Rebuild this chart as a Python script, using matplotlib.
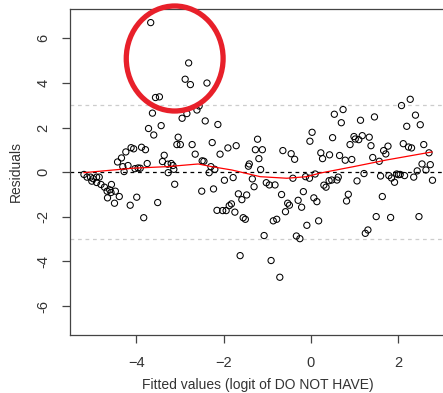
import matplotlib.pyplot as plt
from matplotlib.patches import Ellipse

plt.rcParams['font.family'] = ['Liberation Sans', 'DejaVu Sans']

# fitted values (logit) and residuals
fitted = [
    -3.67, -2.80, -2.88, -2.76, -2.38, -3.56, -3.47, -3.63, -2.84, -2.95,
    -2.61, -2.56, -2.42, -3.72, -3.43, -3.60, -3.04, -3.07, -2.99, -2.72,
    -2.26, -2.13, -4.12, -4.06, -4.24, -3.88, -3.79, -4.34, -4.43, -3.36,
    -2.65, -2.49, -2.45, -2.08, -3.75, -4.19, -4.31, -4.28, -4.03, -3.96,
    -3.91, -3.40, -3.28, -3.20, -3.16, -3.14, -3.27, -2.33, -2.29, -2.20,
    -3.12, -2.50, -2.23,
    -5.20, -5.13, -5.05, -4.99, -4.91, -4.85, -5.02, -4.91, -4.81, -4.73,
    -4.57, -4.67, -4.61, -4.58, -4.66, -4.48, -4.39, -4.50, -4.14, -3.99,
    -3.83, -3.51, -2.15,
    -1.98, -1.78, -1.66, -1.58, -1.47, -1.34, -1.30, -2.02, -1.94, -1.87,
    -1.82, -1.74, -1.55, -1.50, -1.62,
    -0.91, -0.71, -1.07, -0.33, -0.25, 1.25, 1.31, 1.50, 1.83, 2.48,
    1.64, 0.82, 0.86, 0.18, -0.09, -0.86, -0.78, -0.58, -0.53, -0.49,
    -0.67, -0.29, -0.21, -0.17, 0.07, 0.14, -1.02, -0.95, -0.82, -0.41,
    -0.12, -0.03, 0.10, 0.30, 0.35, 0.42, 0.48, 0.60, 0.63, -1.15,
    1.22, 1.06, 1.60, 1.79, 1.85, 1.92, 1.97, 2.01, 2.05, 2.15,
    2.36, 2.79, 2.44, 2.64,
    2.28, 2.08, 2.40, 2.20, 2.51, 0.74, 0.54, 0.70, 1.14, 1.46,
    0.50, 0.90, 0.99, 1.02, 1.10, 1.18, 1.34, 1.38, 0.03, -0.02,
    0.23, 0.27, 0.43, 0.66, 0.79, 0.94, 1.42, 1.57, 1.67, 1.72,
    1.77, 2.12, 2.24, 2.31, 2.59, 2.71, 2.55, 2.74,
    -1.41, -1.43, -1.19, -1.27, -1.11, -1.22, -1.71, -1.90, -0.64, -0.45,
    -0.37,
]
resid = [
    6.71, 4.90, 4.17, 3.93, 4.00, 3.35, 3.38, 2.65, 2.63, 2.42,
    2.79, 2.97, 2.30, 1.96, 2.09, 1.67, 1.57, 1.24, 1.24, 1.24,
    1.33, 2.14, 1.10, 1.05, 0.91, 1.12, 1.01, 0.64, 0.46, 0.76,
    0.81, 0.51, 0.49, 0.81, 0.39, 0.30, 0.25, 0.03, 0.16, 0.19,
    0.18, 0.48, 0.36, 0.39, 0.30, 0.13, -0.02, -0.02, 0.25, 0.13,
    -0.54, -0.85, -0.75,
    -0.10, -0.22, -0.22, -0.29, -0.22, -0.22, -0.40, -0.46, -0.55, -0.67,
    -0.55, -0.85, -0.79, -0.91, -1.15, -0.85, -1.09, -1.39, -1.48, -1.12,
    -2.04, -1.36, -1.71,
    -0.36, -0.24, -0.97, -1.23, -1.02, -0.30, -0.65, -1.72, -1.72, -1.50,
    -1.42, -1.79, -2.04, -2.11, -3.74,
    -3.96, -4.71, -2.84, -2.86, -2.98, -2.74, -2.59, -1.99, -2.03, -1.99,
    -1.09, -1.29, -0.99, -2.18, -2.38, -2.18, -2.11, -1.77, -1.39, -1.48,
    -1.00, -1.26, -1.57, -0.87, -1.15, -1.32, -0.47, -0.57, -0.57, -0.27,
    -0.20, -0.27, -0.08, -0.58, -0.67, -0.38, -0.35, -0.35, -0.22, 0.12,
    -0.06, -0.39, -0.17, -0.15, -0.26, -0.45, -0.08, -0.11, -0.10, -0.15,
    -0.22, -0.36, 0.06, 0.10,
    3.27, 2.99, 2.56, 2.06, 2.13, 2.81, 2.60, 2.22, 2.33, 2.48,
    1.55, 1.24, 1.60, 1.49, 1.46, 1.64, 1.57, 1.19, 1.79, 1.39,
    0.87, 0.61, 0.78, 0.75, 0.54, 0.57, 0.66, 0.49, 0.97, 0.82,
    1.17, 1.28, 1.13, 1.09, 1.24, 0.87, 0.37, 0.34,
    0.37, 0.27, 0.61, 1.01, 1.01, 1.48, 1.19, 1.09, 0.97, 0.83,
    0.58,
]

# smoother (red line)
smooth_x = [-5.20, -4.08, -3.30, -2.58, -2.27, -1.81, -1.16, -0.55, -0.09, 0.21, 0.98, 1.74, 2.78]
smooth_y = [-0.02, 0.18, 0.25, 0.37, 0.25, 0.10, -0.20, -0.27, -0.20, -0.04, 0.25, 0.55, 0.91]

x_ticks = [-4, -2, 0, 2]
y_ticks = [-6, -4, -2, 0, 2, 4, 6]

fig = plt.figure(figsize=(4.43, 3.93), dpi=100)
ax = fig.add_axes([70 / 443, 1 - 335 / 393, 376 / 443, 326 / 393])

ax.axhline(0, color="black", linestyle=(0, (3, 3)), linewidth=0.9, zorder=1)
ax.axhline(3, color="#cccccc", linestyle=(0, (3, 3)), linewidth=0.9, zorder=1)
ax.axhline(-3, color="#cccccc", linestyle=(0, (3, 3)), linewidth=0.9, zorder=1)

ax.scatter(fitted, resid, s=20, facecolors="none", edgecolors="black", linewidths=0.75, zorder=2)
ax.plot(smooth_x, smooth_y, color="red", linewidth=0.9, zorder=3)

# highlight of the outliers
ring = Ellipse((-3.12, 5.10), 2.22, 4.71, fill=False, edgecolor="#e8202a", linewidth=3.8, clip_on=False, zorder=4)
ax.add_patch(ring)

ax.set_xlim(-5.52, 3.10)
ax.set_ylim(-7.3, 7.32)
ax.set_xticks(x_ticks)
ax.set_yticks(y_ticks)
ax.set_yticklabels([str(v) for v in y_ticks], rotation=90, va="center")

for side in ["left", "bottom", "top"]:
    ax.spines[side].set_color("#444444")
    ax.spines[side].set_linewidth(0.9)
ax.spines["right"].set_visible(False)

ax.tick_params(axis="both", colors="#444444", labelcolor="#333333", labelsize=10.5, length=6, width=0.9)
ax.tick_params(axis="x", pad=9)
ax.tick_params(axis="y", pad=8)

ax.set_xlabel("Fitted values (logit of DO NOT HAVE)", fontsize=10, color="#333333", labelpad=6)
ax.set_ylabel("Residuals", fontsize=10, color="#333333", labelpad=10)

fig.savefig("out.png", dpi=100)
